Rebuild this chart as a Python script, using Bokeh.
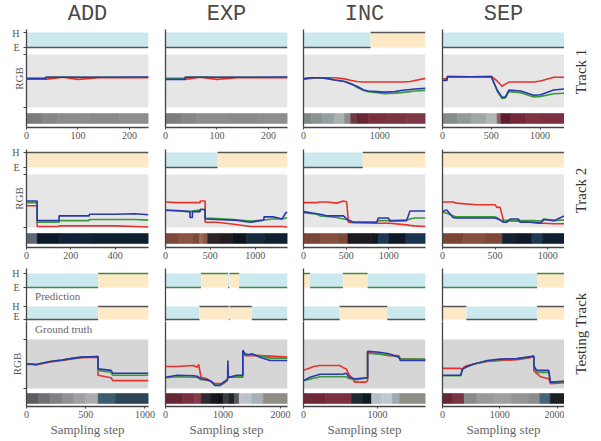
import math
from bokeh.plotting import figure
from bokeh.models import Range1d, FixedTicker, LinearAxis
from bokeh.core.properties import value
from bokeh.layouts import row, column
from bokeh.embed import file_html
from bokeh.resources import INLINE

# ---------------- data ----------------
COLS = ["ADD", "EXP", "INC", "SEP"]
ROWS = ["Track 1", "Track 2", "Testing Track"]

# x extents and ticks
XMAX = [[237, 237, 1600, 1250], [550, 1360, 1430, 1160], [1030, 2120, 1650, 2130]]
XTICKS = [[[0, 100, 200], [0, 100, 200], [0, 1000], [0, 500, 1000]],
          [[0, 200, 400], [0, 500, 1000], [0, 500, 1000], [0, 500, 1000]],
          [[0, 500, 1000], [0, 1000, 2000], [0, 1000], [0, 1000, 2000]]]

# ---- Track 1 RGB ----
T1_ADD_X = [0, 37, 37, 70, 100, 140, 237]
T1_ADD_R = [0.55, 0.55, 0.53, 0.57, 0.53, 0.56, 0.56]
T1_ADD_G = [0.55, 0.55, 0.57, 0.575, 0.57, 0.57, 0.57]
T1_ADD_B = [0.54, 0.54, 0.57, 0.57, 0.57, 0.57, 0.575]
T1_EXP_X = [0, 38, 38, 67, 100, 139, 237]
T1_EXP_R = [0.54, 0.54, 0.53, 0.57, 0.53, 0.56, 0.56]
T1_EXP_G = [0.55, 0.55, 0.57, 0.575, 0.57, 0.57, 0.57]
T1_EXP_B = [0.53, 0.53, 0.57, 0.57, 0.57, 0.57, 0.575]
T1_INC_X = [0, 100, 190, 300, 410, 540, 630, 700, 790, 850, 960, 1060, 1200, 1280, 1400, 1460, 1600]
T1_INC_R = [0.54, 0.55, 0.56, 0.56, 0.56, 0.54, 0.51, 0.49, 0.48, 0.48, 0.48, 0.48, 0.48, 0.48, 0.49, 0.51, 0.55]
T1_INC_G = [0.54, 0.56, 0.56, 0.55, 0.52, 0.49, 0.45, 0.38, 0.32, 0.30, 0.28, 0.26, 0.27, 0.28, 0.30, 0.31, 0.32]
T1_INC_B = [0.54, 0.56, 0.56, 0.55, 0.52, 0.49, 0.44, 0.40, 0.33, 0.31, 0.30, 0.29, 0.30, 0.32, 0.34, 0.35, 0.36]
T1_SEP_X = [0, 45, 50, 300, 500, 560, 610, 645, 680, 800, 935, 1004, 1140, 1250]
T1_SEP_R = [0.54, 0.54, 0.585, 0.58, 0.585, 0.50, 0.40, 0.44, 0.48, 0.48, 0.48, 0.50, 0.57, 0.57]
T1_SEP_G = [0.52, 0.52, 0.58, 0.575, 0.58, 0.31, 0.17, 0.18, 0.30, 0.28, 0.20, 0.21, 0.26, 0.27]
T1_SEP_B = [0.51, 0.51, 0.585, 0.58, 0.585, 0.33, 0.19, 0.20, 0.33, 0.31, 0.23, 0.24, 0.33, 0.35]

# ---- Track 2 RGB ----
T2_ADD_X = [0, 48, 48, 147, 147, 283, 283, 400, 488, 550]
T2_ADD_R = [0.41, 0.41, 0.02, 0.02, 0.03, 0.03, 0.03, 0.03, 0.02, 0.01]
T2_ADD_G = [0.47, 0.47, 0.10, 0.10, 0.13, 0.13, 0.15, 0.15, 0.15, 0.14]
T2_ADD_B = [0.50, 0.50, 0.13, 0.13, 0.22, 0.22, 0.25, 0.25, 0.26, 0.24]
T2_EXP_X = [0, 124, 273, 273, 300, 300, 386, 386, 442, 442, 573, 760, 948, 1097, 1097, 1200, 1300, 1341, 1360]
T2_EXP_R = [0.48, 0.47, 0.47, 0.47, 0.47, 0.47, 0.47, 0.50, 0.50, 0.10, 0.10, 0.06, 0.02, 0.02, 0.02, 0.02, 0.02, 0.01, 0.01]
T2_EXP_G = [0.32, 0.31, 0.30, 0.30, 0.31, 0.31, 0.33, 0.34, 0.34, 0.18, 0.17, 0.15, 0.12, 0.14, 0.14, 0.16, 0.16, 0.18, 0.18]
T2_EXP_B = [0.33, 0.32, 0.30, 0.19, 0.19, 0.30, 0.30, 0.34, 0.34, 0.16, 0.15, 0.14, 0.10, 0.14, 0.20, 0.20, 0.16, 0.28, 0.28]
T2_INC_X = [0, 156, 195, 273, 390, 468, 507, 526, 585, 858, 877, 994, 1014, 1209, 1248, 1300, 1430]
T2_INC_R = [0.47, 0.47, 0.48, 0.48, 0.46, 0.50, 0.48, 0.10, 0.09, 0.08, 0.08, 0.08, 0.08, 0.05, 0.04, 0.03, 0.02]
T2_INC_G = [0.28, 0.25, 0.22, 0.21, 0.19, 0.16, 0.15, 0.13, 0.10, 0.10, 0.13, 0.13, 0.12, 0.14, 0.16, 0.18, 0.18]
T2_INC_B = [0.30, 0.26, 0.25, 0.22, 0.22, 0.22, 0.16, 0.14, 0.10, 0.10, 0.18, 0.18, 0.13, 0.13, 0.31, 0.31, 0.31]
T2_SEP_X = [0, 40, 100, 131, 324, 500, 516, 548, 580, 612, 644, 720, 740, 869, 933, 965, 1061, 1125, 1160]
T2_SEP_R = [0.48, 0.48, 0.48, 0.46, 0.43, 0.43, 0.38, 0.38, 0.13, 0.13, 0.13, 0.12, 0.12, 0.09, 0.08, 0.08, 0.07, 0.07, 0.07]
T2_SEP_G = [0.29, 0.27, 0.22, 0.20, 0.20, 0.20, 0.19, 0.14, 0.13, 0.13, 0.13, 0.13, 0.13, 0.13, 0.12, 0.16, 0.13, 0.14, 0.14]
T2_SEP_B = [0.30, 0.33, 0.19, 0.18, 0.18, 0.18, 0.17, 0.14, 0.10, 0.10, 0.16, 0.16, 0.10, 0.10, 0.08, 0.15, 0.13, 0.19, 0.22]

# ---- Testing track RGB ----
TT_ADD_X = [0, 40, 80, 200, 300, 400, 467, 604, 604, 714, 728, 1030]
TT_ADD_R = [0.49, 0.49, 0.48, 0.54, 0.57, 0.61, 0.63, 0.64, 0.27, 0.22, 0.16, 0.16]
TT_ADD_G = [0.50, 0.50, 0.49, 0.55, 0.58, 0.62, 0.64, 0.65, 0.37, 0.33, 0.27, 0.27]
TT_ADD_B = [0.50, 0.50, 0.49, 0.55, 0.58, 0.62, 0.64, 0.65, 0.40, 0.37, 0.31, 0.31]
TT_EXP_X = [0, 202, 490, 548, 576, 617, 720, 778, 865, 951, 1009, 1066, 1080, 1084, 1092, 1101, 1239, 1343, 1343, 1383, 1441, 1499, 1643, 1816, 2120]
TT_EXP_R = [0.45, 0.45, 0.47, 0.43, 0.49, 0.23, 0.20, 0.15, 0.10, 0.10, 0.10, 0.16, 0.20, 0.20, 0.22, 0.23, 0.23, 0.23, 0.74, 0.67, 0.67, 0.67, 0.67, 0.66, 0.64]
TT_EXP_G = [0.22, 0.24, 0.23, 0.23, 0.21, 0.18, 0.17, 0.15, 0.08, 0.08, 0.13, 0.18, 0.21, 0.22, 0.23, 0.24, 0.24, 0.24, 0.72, 0.69, 0.68, 0.68, 0.67, 0.62, 0.62]
TT_EXP_B = [0.23, 0.27, 0.26, 0.25, 0.23, 0.20, 0.18, 0.16, 0.06, 0.06, 0.13, 0.16, 0.20, 0.57, 0.25, 0.23, 0.27, 0.27, 0.78, 0.71, 0.69, 0.71, 0.64, 0.57, 0.57]
TT_INC_X = [0, 89, 133, 178, 222, 489, 533, 578, 622, 667, 689, 711, 844, 867, 867, 1022, 1156, 1289, 1311, 1650]
TT_INC_R = [0.37, 0.42, 0.45, 0.46, 0.47, 0.47, 0.43, 0.40, 0.27, 0.20, 0.13, 0.13, 0.13, 0.16, 0.74, 0.71, 0.67, 0.67, 0.61, 0.59]
TT_INC_G = [0.16, 0.19, 0.21, 0.22, 0.24, 0.24, 0.24, 0.24, 0.20, 0.19, 0.18, 0.18, 0.21, 0.21, 0.72, 0.70, 0.68, 0.65, 0.60, 0.60]
TT_INC_B = [0.16, 0.23, 0.25, 0.27, 0.29, 0.29, 0.29, 0.31, 0.23, 0.21, 0.20, 0.20, 0.22, 0.22, 0.76, 0.74, 0.71, 0.64, 0.57, 0.57]
TT_SEP_X = [0, 319, 348, 377, 435, 551, 783, 1014, 1304, 1536, 1565, 1594, 1594, 1623, 1652, 1710, 1855, 1884, 2130]
TT_SEP_R = [0.41, 0.41, 0.38, 0.44, 0.47, 0.50, 0.55, 0.57, 0.59, 0.63, 0.65, 0.65, 0.37, 0.33, 0.30, 0.24, 0.20, 0.10, 0.12]
TT_SEP_G = [0.26, 0.26, 0.38, 0.41, 0.45, 0.50, 0.56, 0.59, 0.61, 0.64, 0.65, 0.65, 0.45, 0.38, 0.33, 0.33, 0.33, 0.12, 0.14]
TT_SEP_B = [0.27, 0.27, 0.40, 0.42, 0.45, 0.50, 0.57, 0.60, 0.61, 0.65, 0.66, 0.66, 0.47, 0.40, 0.37, 0.37, 0.37, 0.13, 0.15]

# ---- states (E / H) ----
T1_ADD_SE, T1_ADD_SS = [0, 237], ["E"]
T1_EXP_SE, T1_EXP_SS = [0, 237], ["E"]
T1_INC_SE, T1_INC_SS = [0, 880, 1600], ["E", "H"]
T1_SEP_SE, T1_SEP_SS = [0, 1250], ["E"]
T2_ADD_SE, T2_ADD_SS = [0, 550], ["H"]
T2_EXP_SE, T2_EXP_SS = [0, 580, 1360], ["E", "H"]
T2_INC_SE, T2_INC_SS = [0, 695, 1430], ["E", "H"]
T2_SEP_SE, T2_SEP_SS = [0, 1160], ["H"]
TT_ADD_PE, TT_ADD_PS = [0, 605, 1030], ["E", "H"]
TT_ADD_GE, TT_ADD_GS = [0, 605, 1030], ["E", "H"]
TT_EXP_PE, TT_EXP_PS = [0, 617, 1085, 1110, 1280, 2120], ["E", "H", "E", "H", "E"]
TT_EXP_GE, TT_EXP_GS = [0, 590, 1100, 1115, 1500, 2120], ["E", "H", "E", "H", "E"]
TT_INC_PE, TT_INC_PS = [0, 89, 533, 867, 1650], ["H", "E", "H", "E"]
TT_INC_GE, TT_INC_GS = [0, 489, 1133, 1650], ["E", "H", "E"]
TT_SEP_PE, TT_SEP_PS = [0, 1652, 2130], ["E", "H"]
TT_SEP_GE, TT_SEP_GS = [0, 417, 1652, 2130], ["H", "E", "H"]

# ---- colour strips ----
T1_ADD_CE = [0, 30, 60, 120, 180, 237]
T1_ADD_CC = ["#7b7d7c", "#858786", "#8b8d8c", "#898b8a", "#8d8f8e"]
T1_EXP_CE = [0, 30, 60, 120, 180, 237]
T1_EXP_CC = ["#7b7d7c", "#858786", "#8b8d8c", "#898b8a", "#8d8f8e"]
T1_INC_CE = [0, 100, 250, 400, 540, 620, 700, 850, 1100, 1350, 1600]
T1_INC_CC = ["#7e8686", "#8a9292", "#96a0a0", "#a9b1b1", "#8f8a8e", "#6e3a45", "#6b2635", "#78303f", "#7a3341", "#7e3845"]
T1_SEP_CE = [0, 150, 300, 450, 560, 600, 700, 850, 1000, 1250]
T1_SEP_CC = ["#858c8c", "#929999", "#a0a7a7", "#b0b5b5", "#8a5a65", "#5e1d2b", "#74293a", "#7c3342", "#7a3040"]
T2_ADD_CE = [0, 48, 150, 300, 550]
T2_ADD_CC = ["#5e6678", "#0b1a28", "#0f2436", "#0d2030"]
T2_EXP_CE = [0, 150, 300, 380, 420, 470, 600, 750, 900, 1100, 1360]
T2_EXP_CC = ["#7d4a3a", "#8a5545", "#7d4a3a", "#a06a58", "#8a5545", "#2e2228", "#251c22", "#0e151c", "#152a3c", "#102030"]
T2_INC_CE = [0, 200, 400, 520, 800, 880, 1000, 1200, 1430]
T2_INC_CC = ["#7a4638", "#85503f", "#7d4a3a", "#1c1a1f", "#101820", "#1c3a55", "#0e1a26", "#1a3550"]
T2_SEP_CE = [0, 200, 400, 570, 700, 850, 950, 1160]
T2_SEP_CC = ["#7a4535", "#85503f", "#7d4838", "#152232", "#0f1a26", "#1d3a55", "#102030"]
TT_ADD_CE = [0, 100, 200, 300, 400, 500, 605, 750, 1030]
TT_ADD_CC = ["#5c5e60", "#6e7072", "#7f8183", "#8f9193", "#9ea0a2", "#aaacae", "#3d5c70", "#2c4658"]
TT_EXP_CE = [0, 300, 500, 620, 780, 900, 1000, 1100, 1200, 1280, 1350, 1500, 1700, 2120]
TT_EXP_CC = ["#6a2535", "#7a3040", "#8a3a48", "#2e2a30", "#15191e", "#0f1215", "#3a3d42", "#1e2428", "#555555", "#c8c0c8", "#b8c4cc", "#a8b0b8", "#8e8e86"]
TT_INC_CE = [0, 300, 650, 800, 920, 1050, 1200, 1300, 1650]
TT_INC_CC = ["#6e2838", "#7a3040", "#1e2a33", "#0f1a22", "#b5bfc8", "#c0c8d0", "#a0aab2", "#8e8e86"]
TT_SEP_CE = [0, 180, 380, 600, 900, 1200, 1500, 1700, 1880, 2130]
TT_SEP_CC = ["#6a2535", "#7a3545", "#8a8a8a", "#9a9a9a", "#a0a0a0", "#959595", "#8c8c8c", "#46657a", "#1b2025"]

RGB = [[(T1_ADD_X, T1_ADD_R, T1_ADD_G, T1_ADD_B), (T1_EXP_X, T1_EXP_R, T1_EXP_G, T1_EXP_B),
        (T1_INC_X, T1_INC_R, T1_INC_G, T1_INC_B), (T1_SEP_X, T1_SEP_R, T1_SEP_G, T1_SEP_B)],
       [(T2_ADD_X, T2_ADD_R, T2_ADD_G, T2_ADD_B), (T2_EXP_X, T2_EXP_R, T2_EXP_G, T2_EXP_B),
        (T2_INC_X, T2_INC_R, T2_INC_G, T2_INC_B), (T2_SEP_X, T2_SEP_R, T2_SEP_G, T2_SEP_B)],
       [(TT_ADD_X, TT_ADD_R, TT_ADD_G, TT_ADD_B), (TT_EXP_X, TT_EXP_R, TT_EXP_G, TT_EXP_B),
        (TT_INC_X, TT_INC_R, TT_INC_G, TT_INC_B), (TT_SEP_X, TT_SEP_R, TT_SEP_G, TT_SEP_B)]]
STATES = [[[(T1_ADD_SE, T1_ADD_SS)], [(T1_EXP_SE, T1_EXP_SS)], [(T1_INC_SE, T1_INC_SS)], [(T1_SEP_SE, T1_SEP_SS)]],
          [[(T2_ADD_SE, T2_ADD_SS)], [(T2_EXP_SE, T2_EXP_SS)], [(T2_INC_SE, T2_INC_SS)], [(T2_SEP_SE, T2_SEP_SS)]],
          [[(TT_ADD_PE, TT_ADD_PS), (TT_ADD_GE, TT_ADD_GS)], [(TT_EXP_PE, TT_EXP_PS), (TT_EXP_GE, TT_EXP_GS)],
           [(TT_INC_PE, TT_INC_PS), (TT_INC_GE, TT_INC_GS)], [(TT_SEP_PE, TT_SEP_PS), (TT_SEP_GE, TT_SEP_GS)]]]
STRIPS = [[(T1_ADD_CE, T1_ADD_CC), (T1_EXP_CE, T1_EXP_CC), (T1_INC_CE, T1_INC_CC), (T1_SEP_CE, T1_SEP_CC)],
          [(T2_ADD_CE, T2_ADD_CC), (T2_EXP_CE, T2_EXP_CC), (T2_INC_CE, T2_INC_CC), (T2_SEP_CE, T2_SEP_CC)],
          [(TT_ADD_CE, TT_ADD_CC), (TT_EXP_CE, TT_EXP_CC), (TT_INC_CE, TT_INC_CC), (TT_SEP_CE, TT_SEP_CC)]]

# ---------------- layout / style ----------------
SERIF = "Liberation Serif"
MONO = "Liberation Mono"
FRAME_W = 122
BORDER_L = [26, 9, 8, 9]
BORDER_R = [8, 8, 8, 0]
TOP_H = 27
RIGHT_W = 32
RIGHT_Y = [71, 190, 333]
BLUE_BAND = "#cae8ed"
ORANGE_BAND = "#fde9c6"
LINE_COLORS = {"R": "#e8312b", "G": "#3a9a3a", "B": "#2a37b0"}
AXIS_C = "#444444"
TEXT_C = "#555555"

# sub-figure specs for each row: frame height, borders, contents (px from frame bottom)
SPECS = [
    [dict(fh=98, bt=2, bb=17, bands=[(80, 95)], rgb=(20, 73), strip=(4, 14), xaxis=True, bg="#e6e6e6")],
    [dict(fh=98, bt=5, bb=18, bands=[(80, 95)], rgb=(20, 73), strip=(4, 14), xaxis=True, bg="#e6e6e6")],
    [dict(fh=53, bt=3, bb=0, bands=[(34, 48), (2, 15)], rgb=None, strip=None, xaxis=False,
          text=("Prediction", 26)),
     dict(fh=85, bt=0, bb=34, bands=[], rgb=(18, 67), strip=(3, 13), xaxis=True, bg="#d6d6d6",
          text=("Ground truth", 78))],
]


def scaled_range(lo, hi, fh):
    span = fh / (hi - lo)
    s = -lo / (hi - lo)
    return Range1d(start=s, end=s + span)


def sub_figure(r, c, spec):
    fh = spec["fh"]
    w = BORDER_L[c] + FRAME_W + BORDER_R[c]
    h = spec["bt"] + fh + spec["bb"]
    xmax = XMAX[r][c]
    p = figure(width=w, height=h, x_range=Range1d(0, xmax), y_range=Range1d(0, fh),
               output_backend="svg", toolbar_location=None,
               min_border_left=BORDER_L[c], min_border_right=BORDER_R[c],
               min_border_top=spec["bt"], min_border_bottom=spec["bb"])
    p.xgrid.visible = False
    p.ygrid.visible = False
    p.outline_line_color = None
    p.background_fill_color = "white"
    p.border_fill_color = "white"

    if spec["strip"]:
        ce, cc = STRIPS[r][c]
        p.quad(left=ce[:-1], right=ce[1:], bottom=spec["strip"][0], top=spec["strip"][1],
               fill_color=cc, line_color=cc, line_width=0.6)
    if spec["rgb"]:
        lo, hi = spec["rgb"]
        p.quad(left=[0], right=[xmax], bottom=lo, top=hi, fill_color=spec["bg"], line_color=None)
        p.extra_y_ranges["rgb"] = scaled_range(lo, hi, fh)
        xs, rr, gg, bb = RGB[r][c]
        for key, vals in (("R", rr), ("G", gg), ("B", bb)):
            p.line(xs, vals, line_color=LINE_COLORS[key], line_width=1.6, y_range_name="rgb")
    for k, (lo, hi) in enumerate(spec["bands"]):
        edges, states = STATES[r][c][k]
        name = "st%d" % k
        p.extra_y_ranges[name] = scaled_range(lo, hi, fh)
        vals = [1 if s == "H" else 0 for s in states]
        cols = [ORANGE_BAND if s == "H" else BLUE_BAND for s in states]
        p.quad(left=edges[:-1], right=edges[1:], bottom=0, top=1, fill_color=cols,
               line_color=None, y_range_name=name)
        lc = "#3c8c3c" if (r == 2 and k == 0) else "#555555"
        p.segment(x0=edges[:-1], x1=edges[1:], y0=vals, y1=vals, line_color=lc,
                  line_width=1.6, y_range_name=name)

    xa = p.xaxis[0]
    if spec["xaxis"]:
        xa.ticker = FixedTicker(ticks=XTICKS[r][c])
        xa.axis_line_color = AXIS_C
        xa.axis_line_width = 1.3
        xa.major_tick_line_color = AXIS_C
        xa.major_tick_out = 2
        xa.major_tick_in = 0
        xa.minor_tick_line_color = None
        xa.major_label_standoff = 2
        xa.major_label_text_font = SERIF
        xa.major_label_text_font_size = "10px"
        xa.major_label_text_color = TEXT_C
        if r == 2:
            xa.axis_label = "Sampling step"
            xa.axis_label_text_font = SERIF
            xa.axis_label_text_font_size = "13px"
            xa.axis_label_text_font_style = "normal"
            xa.axis_label_text_color = "#666666"
            xa.axis_label_standoff = 1
    else:
        xa.visible = False

    ya = p.yaxis[0]
    ya.axis_line_color = AXIS_C
    ya.axis_line_width = 1.3
    ya.minor_tick_line_color = None
    if c == 0:
        ticks = []
        over = {}
        for (lo, hi) in spec["bands"]:
            ticks += [hi, lo]
            over[hi] = "H"
            over[lo] = "E"
        if spec["rgb"]:
            ticks += [spec["rgb"][1], spec["rgb"][0]]
            over[spec["rgb"][1]] = ""
            over[spec["rgb"][0]] = ""
        ya.ticker = FixedTicker(ticks=ticks)
        ya.major_label_overrides = over
        ya.major_tick_out = 3
        ya.major_tick_in = 0
        ya.major_tick_line_color = AXIS_C
        ya.major_label_standoff = 4
        ya.major_label_text_font = SERIF
        ya.major_label_text_font_size = "10px"
        ya.major_label_text_color = TEXT_C
        if spec["rgb"]:
            # the H/E labels widen the inner axis; compensate when they are absent
            stand = -15 if spec["bands"] else 1
            rgb_axis = LinearAxis(y_range_name="rgb", ticker=FixedTicker(ticks=[]),
                                  axis_line_color=None, major_tick_out=0, major_tick_in=0,
                                  major_label_standoff=0, axis_label="RGB",
                                  axis_label_standoff=stand, axis_label_text_font=SERIF,
                                  axis_label_text_font_size="11px",
                                  axis_label_text_font_style="normal",
                                  axis_label_text_color=TEXT_C)
            p.add_layout(rgb_axis, "left")
        if "text" in spec:
            txt, yy = spec["text"]
            p.text(x=[xmax * 0.07], y=[yy], text=[txt], text_align="left", text_baseline="middle",
                   text_font=value(SERIF), text_font_size="11px", text_color="#666666")
    else:
        ya.ticker = FixedTicker(ticks=[])
        ya.major_tick_line_color = None
        ya.major_label_text_font_size = "0px"
    return p


def panel(r, c):
    figs = [sub_figure(r, c, s) for s in SPECS[r]]
    return figs[0] if len(figs) == 1 else column(*figs)


panel_rows = [row(*[panel(r, c) for c in range(4)]) for r in range(3)]
total_w = sum(BORDER_L) + 4 * FRAME_W + sum(BORDER_R)
total_h = TOP_H + sum(s["bt"] + s["fh"] + s["bb"] for rs in SPECS for s in rs)

# column titles
top = figure(width=total_w, height=TOP_H, x_range=Range1d(0, total_w), y_range=Range1d(TOP_H, 0),
             output_backend="svg", toolbar_location=None, x_axis_location=None,
             y_axis_location=None, min_border=0)
top.outline_line_color = None
top.xgrid.visible = False
top.ygrid.visible = False
centers = []
acc = 0
for c in range(4):
    centers.append(acc + BORDER_L[c] + FRAME_W / 2)
    acc += BORDER_L[c] + FRAME_W + BORDER_R[c]
top.text(x=centers, y=[14] * 4, text=COLS, text_align="center", text_baseline="middle",
         text_font=value(MONO), text_font_size="22px", text_color="#4a4a4a")

# row labels on the right
right = figure(width=RIGHT_W, height=total_h, x_range=Range1d(0, RIGHT_W), y_range=Range1d(total_h, 0),
               output_backend="svg", toolbar_location=None, x_axis_location=None,
               y_axis_location=None, min_border=0)
right.outline_line_color = None
right.xgrid.visible = False
right.ygrid.visible = False
right.text(x=[RIGHT_W / 2] * 3, y=RIGHT_Y, text=ROWS, angle=math.pi / 2, text_align="center",
           text_baseline="middle", text_font=value(SERIF), text_font_size="15px",
           text_color="#333333")

layout = row(column(top, *panel_rows), right)
open("out.html", "w").write(file_html(layout, INLINE))
